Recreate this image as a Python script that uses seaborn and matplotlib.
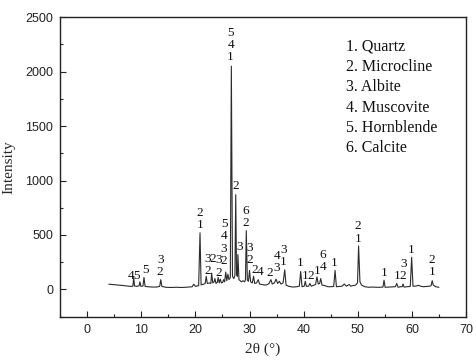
import numpy as np
import pandas as pd

import matplotlib

matplotlib.use("Agg")
import matplotlib.pyplot as plt
import seaborn as sns
from matplotlib.ticker import MultipleLocator

# XRD pattern, one chunk per 2-theta range
two_theta = (
    [4.0, 4.5, 5.0, 5.5, 6.0, 6.5, 7.0, 7.5, 8.0]
    + [8.45, 8.6, 8.75, 9.2, 9.6, 9.75, 9.9, 10.3, 10.5, 10.7, 11.2]
    + [12.0, 12.8, 13.4, 13.6, 13.8, 14.5, 15.5, 16.5, 17.5, 18.5, 19.4, 19.7, 20.0]
    + [20.6, 20.85, 21.05, 21.5, 21.8, 22.0, 22.2, 22.6]
    + [22.85, 23.0, 23.2, 23.45, 23.6, 23.8, 24.05, 24.2, 24.4, 24.6, 24.8,
       25.05, 25.2, 25.4, 25.6, 25.8, 26.0, 26.2]
    + [26.45, 26.64, 26.85, 27.1, 27.3, 27.45, 27.6, 27.75, 27.85, 28.05, 28.5]
    + [28.8, 29.1, 29.25, 29.4, 29.6, 29.8, 30.0, 30.2, 30.5, 30.75, 30.95,
       31.3, 31.6, 31.85, 32.3]
    + [32.8, 33.3, 33.6, 33.95, 34.2, 34.6, 34.9, 35.2, 35.5, 35.8, 36.2, 36.5, 36.75]
    + [37.3, 38.0, 38.7, 39.2, 39.45, 39.7, 40.1, 40.3, 40.5, 40.9, 41.15, 41.4,
       41.9, 42.2, 42.45, 42.7, 42.95, 43.15, 43.4, 43.9]
    + [44.5, 45.1, 45.55, 45.8, 46.05, 46.6, 47.1, 47.5, 47.9, 48.4, 48.7, 49.1,
       49.6, 49.95, 50.15, 50.4, 50.7]
    + [51.3, 52.0, 52.7, 53.4, 54.1, 54.65, 54.85, 55.05, 55.7, 56.4, 56.95, 57.2,
       57.45, 57.9, 58.2, 58.35, 58.55]
    + [59.1, 59.7, 59.95, 60.2, 60.7, 61.2, 61.6, 62.1, 62.7, 63.3, 63.55, 63.75,
       63.95, 64.4, 65.0]
)
intensity = (
    [48, 46, 45, 42, 40, 37, 34, 30, 28]
    + [30, 110, 32, 28, 34, 70, 30, 30, 110, 28, 25]
    + [22, 22, 28, 90, 28, 20, 18, 20, 18, 21, 25, 48, 28]
    + [35, 520, 42, 48, 55, 120, 55, 60]
    + [55, 150, 60, 70, 100, 55, 65, 110, 60, 95, 60,
       65, 90, 70, 160, 80, 140, 90]
    + [110, 2050, 120, 100, 130, 870, 140, 120, 320, 90, 70]
    + [80, 70, 90, 540, 85, 75, 175, 70, 60, 120, 55,
       60, 90, 50, 45]
    + [40, 45, 55, 90, 50, 60, 95, 55, 75, 50, 60, 180, 40]
    + [28, 22, 25, 30, 165, 25, 30, 75, 28, 30, 55, 30,
       40, 45, 115, 50, 55, 100, 40, 35]
    + [25, 25, 28, 175, 25, 28, 30, 50, 30, 45, 30, 35,
       40, 60, 400, 70, 40]
    + [25, 20, 22, 20, 20, 22, 85, 20, 22, 25, 25, 55,
       20, 25, 25, 50, 22]
    + [25, 28, 295, 30, 30, 38, 30, 25, 28, 30, 35, 80,
       40, 25, 20]
)

# phase labels over the peaks: 2-theta, bottom of label, text
label_theta = [8.1, 9.2, 10.7, 13.5, 20.8, 22.2, 23.2, 24.3, 25.3, 26.5,
               27.4, 28.2, 29.3, 30.1, 30.9, 32.0, 33.8, 35.0, 36.3, 39.4, 40.2,
               41.4, 42.5, 43.6, 45.6, 50.0, 54.8, 57.3, 58.4, 59.9, 63.7]
label_height = [66, 66, 121, 103, 535, 112, 228, 100, 205, 2075,
                895, 330, 555, 215, 120, 105, 95, 139, 194, 190, 70,
                70, 115, 150, 190, 410, 100, 66, 66, 305, 103]
label_text = ["4", "5", "5", "3\n2", "2\n1", "3\n2", "2", "3\n2", "5\n4\n3\n2", "5\n4\n1",
              "2", "3", "6\n2", "3\n2", "2", "4", "2", "4\n3", "3\n1", "1", "1",
              "2", "1", "6\n4", "1", "2\n1", "1", "1", "3\n2", "1", "2\n1"]

phases = ["Quartz", "Microcline", "Albite", "Muscovite", "Hornblende", "Calcite"]

df = pd.DataFrame({"two_theta": two_theta, "intensity": intensity})

sns.set_style("ticks")
plt.rcParams["font.family"] = ["Liberation Sans", "DejaVu Sans"]
serif = ["Liberation Serif", "DejaVu Serif"]

fig = plt.figure(figsize=(4.77, 3.64), dpi=100)
ax = fig.add_axes([0.126, 0.130, 0.851, 0.823])

sns.lineplot(data=df, x="two_theta", y="intensity", ax=ax, color="#2b2b2b",
             linewidth=0.8, estimator=None, sort=False)

for x, y, t in zip(label_theta, label_height, label_text):
    ax.text(x, y, t, ha="center", va="bottom", fontsize=9.5,
            family=serif, linespacing=1.05, color="#111111")

legend_txt = "\n".join(f"{i}. {p}" for i, p in enumerate(phases, 1))
ax.text(0.704, 0.928, legend_txt, transform=ax.transAxes, ha="left", va="top",
        fontsize=11.5, family=serif, linespacing=1.36, color="#111111")

ax.set_xlim(-5, 70)
ax.set_ylim(-250, 2500)
ax.xaxis.set_major_locator(MultipleLocator(10))
ax.xaxis.set_minor_locator(MultipleLocator(5))
ax.yaxis.set_major_locator(MultipleLocator(500))
ax.yaxis.set_minor_locator(MultipleLocator(250))
ax.tick_params(which="both", direction="in", labelsize=9, colors="#222222")
ax.tick_params(which="major", length=4.5, width=0.8, pad=5)
ax.tick_params(which="minor", length=2.5, width=0.8)
for s in ax.spines.values():
    s.set_linewidth(1.0)
    s.set_color("#222222")

ax.set_xlabel("2θ (°)", family=serif, fontsize=11, labelpad=5)
ax.set_ylabel("Intensity", family=serif, fontsize=11, labelpad=7)

fig.savefig("out.png", dpi=100)
plt.close(fig)
